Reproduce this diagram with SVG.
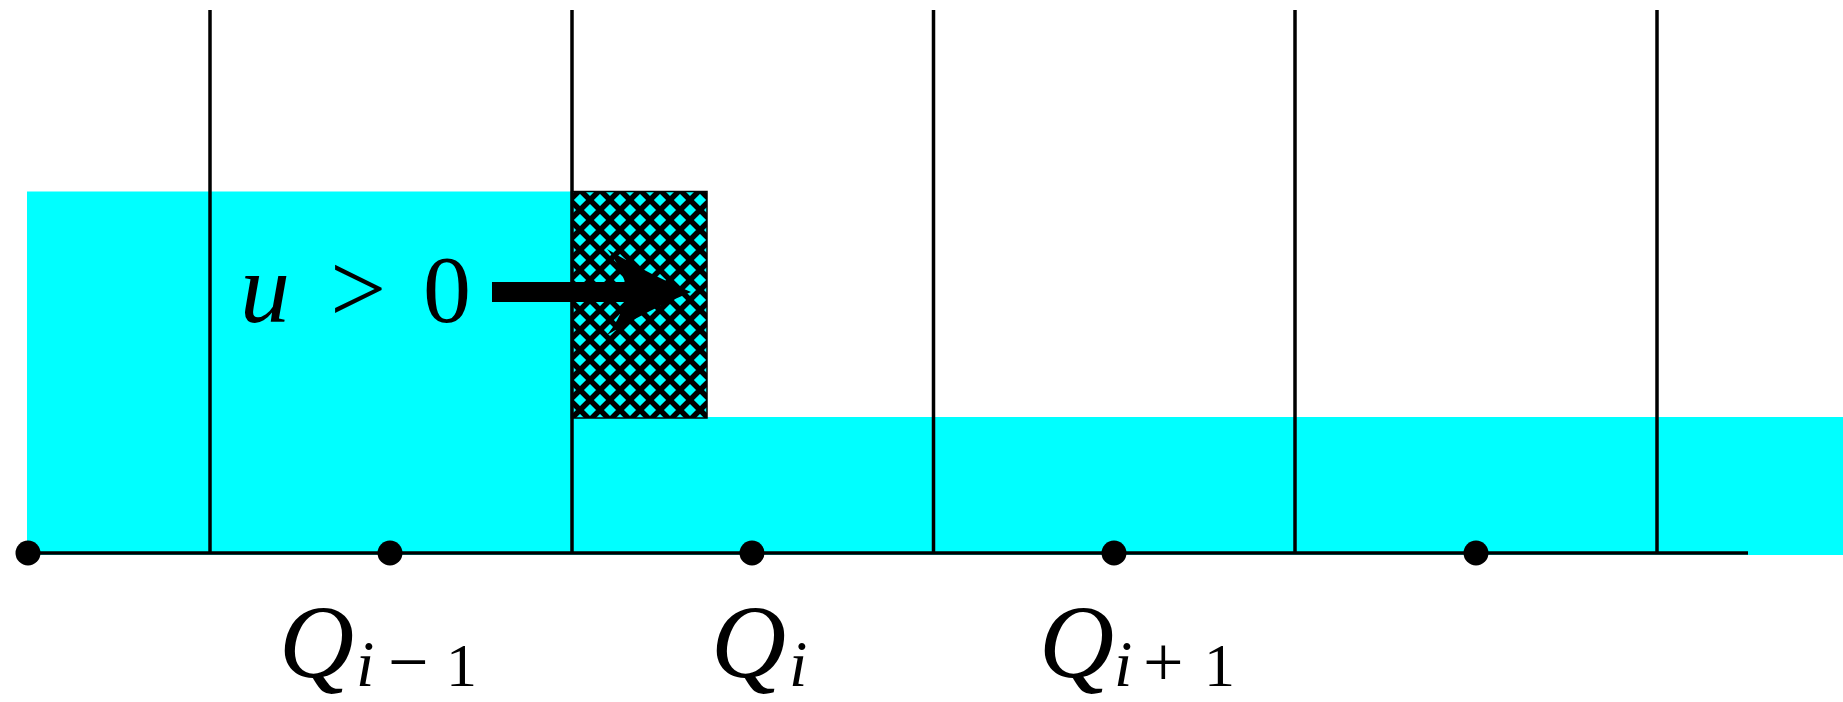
<svg xmlns="http://www.w3.org/2000/svg" width="1843" height="702" viewBox="0 0 1843 702">
  <style>
    .water { fill: #00FFFF; stroke: none; }
    .grid { stroke: #000; stroke-width: 3.5; fill: none; }
    .axis { stroke: #000; stroke-width: 3.5; fill: none; }
    .dot { fill: #000; }
    .math { font-family: "Liberation Serif", "DejaVu Serif", serif; fill: #000; }
    .it { font-style: italic; }
  </style>
  <defs>
    <pattern id="hatch" patternUnits="userSpaceOnUse" x="570" y="200" width="20" height="20">
      <rect width="20" height="20" fill="#00FFFF"/>
      <path d="M-5,-5 L25,25 M25,-5 L-5,25 M-5,15 L5,25 M15,-5 L25,5 M15,25 L25,15 M-5,5 L5,-5" stroke="#000" stroke-width="5.5"/>
    </pattern>
  </defs>

  <g id="water">
    <rect class="water" x="27" y="191.5" width="545" height="363.5"/>
    <rect class="water" x="571.5" y="417" width="1271.5" height="138"/>
  </g>

  <g id="flux-region">
    <rect x="571.5" y="191.5" width="135.5" height="226.5" fill="url(#hatch)" stroke="#000" stroke-width="1.5"/>
  </g>

  <g id="cell-edges">
    <line class="grid" x1="210" y1="10" x2="210" y2="553"/>
    <line class="grid" x1="572" y1="10" x2="572" y2="553"/>
    <line class="grid" x1="933.5" y1="10" x2="933.5" y2="553"/>
    <line class="grid" x1="1295" y1="10" x2="1295" y2="553"/>
    <line class="grid" x1="1657" y1="10" x2="1657" y2="553"/>
  </g>

  <g id="axis">
    <line class="axis" x1="27" y1="553" x2="1748" y2="553"/>
    <circle class="dot" cx="28" cy="553" r="12.5"/>
    <circle class="dot" cx="390" cy="553" r="12.5"/>
    <circle class="dot" cx="752" cy="553" r="12.5"/>
    <circle class="dot" cx="1114" cy="553" r="12.5"/>
    <circle class="dot" cx="1476" cy="553" r="12.5"/>
  </g>

  <g id="velocity">
    <text class="math it" x="240" y="322" font-size="100">u</text>
    <text class="math" x="330" y="322" font-size="100">&gt;</text>
    <text class="math" x="423" y="322" font-size="96">0</text>
    <path d="M492,282 H625 Q618,262 607,249 Q650,275 691,292 Q650,309 607,335 Q618,322 625,302 H492 Z" fill="#000"/>
  </g>

  <g id="label-Qim1">
    <text class="math it" x="279" y="677" font-size="104">Q</text>
    <text class="math it" x="356" y="686" font-size="66">i</text>
    <text class="math" x="388" y="686" font-size="72">−</text>
    <text class="math" x="446" y="686" font-size="62">1</text>
  </g>
  <g id="label-Qi">
    <text class="math it" x="711" y="677" font-size="104">Q</text>
    <text class="math it" x="789" y="686" font-size="66">i</text>
  </g>
  <g id="label-Qip1">
    <text class="math it" x="1039" y="677" font-size="104">Q</text>
    <text class="math it" x="1114" y="686" font-size="66">i</text>
    <text class="math" x="1143" y="686" font-size="72">+</text>
    <text class="math" x="1204" y="686" font-size="62">1</text>
  </g>
</svg>
